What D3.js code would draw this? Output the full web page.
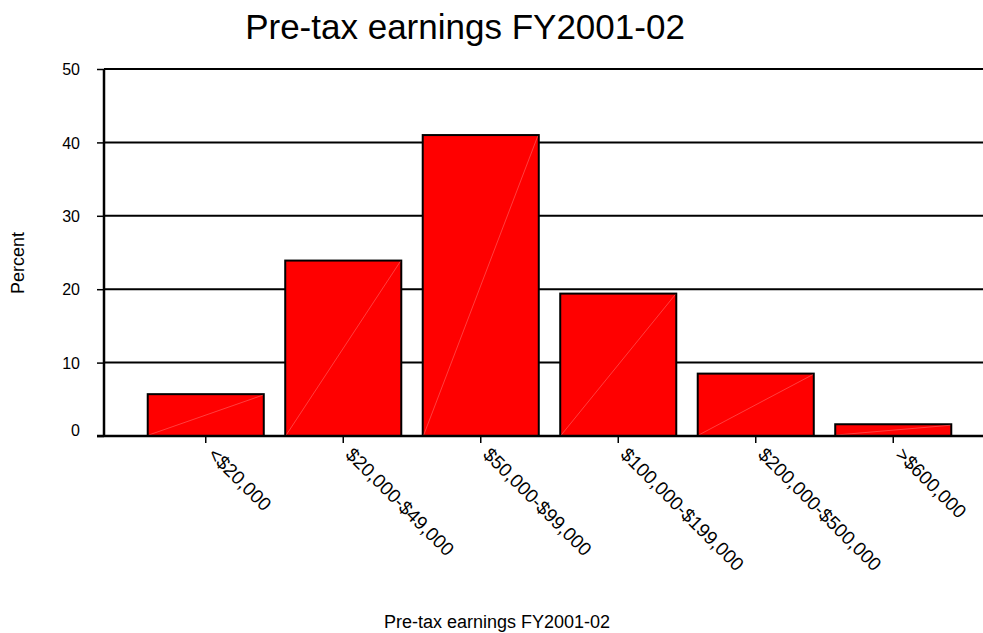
<!DOCTYPE html>
<html>
<head>
<meta charset="utf-8">
<script src="https://cdn.jsdelivr.net/npm/d3@7"></script>
<style>
  html, body { margin: 0; padding: 0; background: #fff; }
  svg { display: block; font-family: "Liberation Sans", Arial, sans-serif; }
</style>
</head>
<body>
<svg id="chart" width="983" height="633"></svg>
<script>
// Earnings brackets and share of respondents (%)
const categories = ["<$20,000", "$20,000-$49,000", "$50,000-$99,000", "$100,000-$199,000", "$200,000-$500,000", ">$600,000"];
const percents = [5.7, 23.9, 41.0, 19.4, 8.5, 1.6];
const yTicks = [0, 10, 20, 30, 40, 50];
const titleText = "Pre-tax earnings FY2001-02";
const xTitle = "Pre-tax earnings FY2001-02";
const yTitle = "Percent";

const svg = d3.select("#chart");
const plot = { left: 104, right: 983, top: 69, bottom: 436 };

const x = d3.scaleBand()
  .domain(categories)
  .range([137, 962])
  .paddingInner(0.156)
  .paddingOuter(0.078);

const y = d3.scaleLinear()
  .domain([0, 50])
  .range([plot.bottom, plot.top]);

// Title
svg.append("text")
  .attr("x", 465).attr("y", 39)
  .attr("text-anchor", "middle")
  .attr("font-size", 35)
  .text(titleText);

// Horizontal gridlines
svg.append("g").selectAll("line")
  .data(yTicks.filter(d => d > 0))
  .join("line")
  .attr("x1", plot.left).attr("x2", plot.right)
  .attr("y1", d => y(d)).attr("y2", d => y(d))
  .attr("stroke", "#000").attr("stroke-width", 2);

// Y axis with outward ticks
const yAxis = d3.axisLeft(y).tickValues(yTicks).tickSize(7).tickPadding(17);
const gy = svg.append("g").attr("transform", `translate(${plot.left},0)`).call(yAxis);
gy.select(".domain").attr("stroke", "#000").attr("stroke-width", 2.5).attr("d", `M0,${plot.top}V${plot.bottom}`);
gy.selectAll(".tick line").attr("stroke", "#000").attr("stroke-width", 1.5);
gy.selectAll(".tick text")
  .attr("font-size", 16)
  .attr("font-family", "Liberation Sans, Arial, sans-serif")
  .attr("fill", "#000")
  .attr("dy", d => d === 0 ? "-0.05em" : "0.35em");

// Bars
const bars = svg.append("g").selectAll("g")
  .data(categories.map((c, i) => ({ c, v: percents[i] })))
  .join("g");

bars.append("rect")
  .attr("x", d => x(d.c))
  .attr("y", d => y(d.v))
  .attr("width", x.bandwidth())
  .attr("height", d => y(0) - y(d.v))
  .attr("fill", "#ff0000")
  .attr("stroke", "#000")
  .attr("stroke-width", 2);

// Faint diagonal highlight across each bar
bars.append("line")
  .attr("x1", d => x(d.c) + 1)
  .attr("y1", d => y(0) - 1)
  .attr("x2", d => x(d.c) + x.bandwidth() - 1)
  .attr("y2", d => y(d.v) + 1)
  .attr("stroke", "#ff8080")
  .attr("stroke-width", 0.7)
  .attr("opacity", 0.7);

// X axis baseline
svg.append("line")
  .attr("x1", plot.left - 7).attr("x2", plot.right)
  .attr("y1", plot.bottom).attr("y2", plot.bottom)
  .attr("stroke", "#000").attr("stroke-width", 2.5);

// Category ticks and rotated labels
const xg = svg.append("g").selectAll("g")
  .data(categories)
  .join("g")
  .attr("transform", d => `translate(${x(d) + x.bandwidth() / 2},${plot.bottom})`);

xg.append("line")
  .attr("y1", 1).attr("y2", 7)
  .attr("stroke", "#000").attr("stroke-width", 1.5);

xg.append("text")
  .attr("transform", "translate(6,15) rotate(45)")
  .attr("dy", "0.35em")
  .attr("font-size", 19)
  .text(d => d);

// Axis titles
svg.append("text")
  .attr("x", 497).attr("y", 628)
  .attr("text-anchor", "middle")
  .attr("font-size", 18)
  .text(xTitle);

svg.append("text")
  .attr("transform", "translate(24,263) rotate(-90)")
  .attr("text-anchor", "middle")
  .attr("font-size", 18)
  .text(yTitle);
</script>
</body>
</html>
